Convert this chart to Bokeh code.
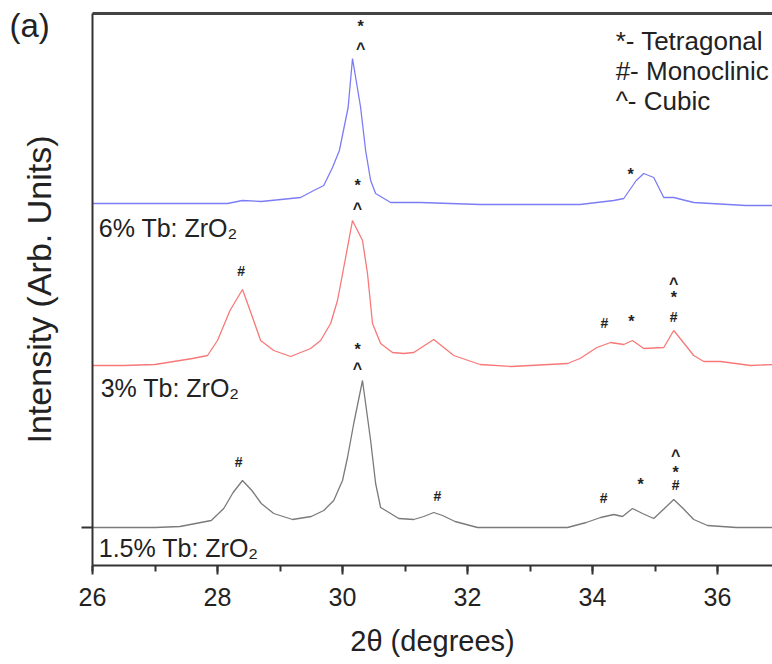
from bokeh.plotting import figure
from bokeh.models import (ColumnDataSource, LinearAxis, SingleIntervalTicker,
                          FixedTicker, Range1d, Title)
from bokeh.core.properties import value
from bokeh.embed import file_html
from bokeh.resources import INLINE

FONT = "Liberation Sans"

# XRD patterns, 2-theta in degrees, intensity in arbitrary units above each baseline
tt_15 = [26.0, 26.5, 27.0, 27.4, 27.9, 28.1, 28.25, 28.4, 28.55, 28.7, 28.9, 29.2,
         29.5, 29.7, 29.86, 30.0, 30.08, 30.18, 30.32, 30.45, 30.53, 30.61, 30.77,
         30.9, 31.14, 31.3, 31.46, 31.6, 31.8, 32.16, 32.5, 33.0, 33.6, 33.9, 34.13,
         34.34, 34.48, 34.64, 34.8, 34.98, 35.15, 35.3, 35.45, 35.62, 35.84, 36.3, 36.9]
int_15 = [0, 0, 0, 1, 7, 19, 35, 47, 37, 24, 14, 8,
          11, 17, 27, 47, 70, 104, 147, 87, 44, 20, 14,
          9, 8, 11, 15, 12, 6, 0, 0, 0, 0, 5, 10,
          13, 11, 19, 14, 9, 19, 28, 19, 8, 2, 0, 0]

tt_3 = [26.0, 26.5, 27.0, 27.6, 27.84, 28.0, 28.2, 28.4, 28.55, 28.69, 28.9, 29.17,
        29.49, 29.65, 29.81, 29.92, 30.05, 30.16, 30.32, 30.4, 30.48, 30.61, 30.8,
        30.98, 31.14, 31.46, 31.78, 32.2, 32.7, 33.6, 33.8, 34.07, 34.29, 34.5, 34.64,
        34.82, 35.14, 35.3, 35.62, 35.78, 36.05, 36.53, 36.9]
int_3 = [0, 0, 1, 7, 10, 25, 55, 76, 50, 25, 15, 9,
         17, 25, 42, 65, 108, 145, 125, 92, 42, 22, 13,
         12, 13, 26, 10, 1, -1, 2, 7, 18, 23, 21, 25,
         17, 18, 35, 10, 4, 4, 0, 1]

tt_6 = [26.0, 27.0, 28.16, 28.4, 28.7, 29.33, 29.54, 29.7, 29.84, 29.95, 30.09, 30.16,
        30.29, 30.37, 30.45, 30.53, 30.77, 31.25, 32.2, 33.8, 34.34, 34.5, 34.7, 34.82,
        34.98, 35.14, 35.3, 35.62, 36.45, 36.9]
int_6 = [0, 0, 0, 3, 2, 6, 13, 18, 36, 53, 96, 145,
         96, 53, 23, 10, 1, 1, -1, -1, 3, 5, 23, 30,
         26, 6, 6, 1, -2, -2]

# vertical stacking of the three patterns
offset_15 = 0
offset_3 = 162
offset_6 = 324

series_names = ["1.5% Tb: ZrO\u2082", "3% Tb: ZrO\u2082", "6% Tb: ZrO\u2082"]
series_colors = ["#7a7a7a", "#f87878", "#7c7cf6"]

# phase markers: 2-theta, height on the stacked scale, symbol
mark_tt = [30.29, 30.29, 34.61,
           28.38, 30.24, 30.24, 34.19, 34.62, 35.30, 35.30, 35.30,
           28.34, 30.24, 30.24, 31.52, 34.18, 34.77, 35.33, 35.33, 35.33]
mark_y = [505, 484, 357,
          257, 346, 324, 205, 210, 211, 234, 249,
          66, 182, 164, 32, 30, 47, 43, 59, 77]
mark_sym = ["*", "^", "*",
            "#", "*", "^", "#", "*", "#", "*", "^",
            "#", "*", "^", "#", "#", "*", "#", "*", "^"]

legend_lines = ["*- Tetragonal", "#- Monoclinic", "^- Cubic"]

p = figure(width=772, height=664, output_backend="svg", toolbar_location=None,
           x_range=Range1d(26, 36.88), y_range=Range1d(-38, 514),
           min_border_left=92, min_border_right=0, min_border_top=13,
           min_border_bottom=99)
p.outline_line_color = None
p.background_fill_color = "white"
p.border_fill_color = "white"
p.xgrid.visible = False
p.ygrid.visible = False

for tt, inten, off, col in [(tt_15, int_15, offset_15, series_colors[0]),
                            (tt_3, int_3, offset_3, series_colors[1]),
                            (tt_6, int_6, offset_6, series_colors[2])]:
    p.line(tt, [v + off for v in inten], line_color=col, line_width=1.3)

# phase symbols
sym_style = {"*": ("16px", 4), "^": ("16px", 5), "#": ("14px", 0)}
for s, (fs, dy) in sym_style.items():
    idx = [i for i, m in enumerate(mark_sym) if m == s]
    src = ColumnDataSource(dict(x=[mark_tt[i] for i in idx],
                                y=[mark_y[i] for i in idx],
                                t=[s] * len(idx)))
    p.text(x="x", y="y", text="t", source=src, text_font=value(FONT),
           text_font_size=fs, text_font_style="bold", text_color="#222222",
           text_align="center", text_baseline="middle", y_offset=dy)

# sample labels under each pattern
label_src = ColumnDataSource(dict(x=[26.1, 26.13, 26.1],
                                  y=[offset_15 - 20, offset_3 - 22, offset_6 - 24],
                                  t=series_names))
p.text(x="x", y="y", text="t", source=label_src, text_font=value(FONT),
       text_font_size="25px", text_color="#222222", text_align="left",
       text_baseline="middle")

# phase key
key_src = ColumnDataSource(dict(x=[34.37] * 3, y=[487, 457, 427], t=legend_lines))
p.text(x="x", y="y", text="t", source=key_src, text_font=value(FONT),
       text_font_size="26px", text_color="#222222", text_align="left",
       text_baseline="middle")

# axes
xa = p.xaxis[0]
xa.ticker = SingleIntervalTicker(interval=2, num_minor_ticks=2)
xa.axis_label = "2\u03b8 (degrees)"
xa.axis_label_text_font = FONT
xa.axis_label_text_font_size = "29px"
xa.axis_label_text_font_style = "normal"
xa.axis_label_text_color = "#222222"
xa.axis_label_standoff = 16
xa.major_label_text_font = FONT
xa.major_label_text_font_size = "25px"
xa.major_label_text_color = "#222222"
xa.major_label_standoff = 13
xa.axis_line_width = 2
xa.axis_line_color = "#333333"
xa.major_tick_line_width = 2
xa.major_tick_line_color = "#333333"
xa.minor_tick_line_width = 2
xa.minor_tick_line_color = "#333333"
xa.major_tick_in = 0
xa.major_tick_out = 9
xa.minor_tick_in = 0
xa.minor_tick_out = 6

ya = p.yaxis[0]
ya.ticker = FixedTicker(ticks=[0], minor_ticks=[])
ya.major_label_overrides = {0: ""}
ya.axis_label = "Intensity (Arb. Units)"
ya.axis_label_text_font = FONT
ya.axis_label_text_font_size = "34px"
ya.axis_label_text_font_style = "normal"
ya.axis_label_text_color = "#222222"
ya.axis_label_standoff = 24
ya.major_label_standoff = 0
ya.axis_line_width = 2
ya.axis_line_color = "#333333"
ya.major_tick_line_width = 2
ya.major_tick_line_color = "#333333"
ya.major_tick_in = 0
ya.major_tick_out = 11

top = LinearAxis(ticker=FixedTicker(ticks=[]),
                 major_tick_line_color=None, minor_tick_line_color=None,
                 axis_line_width=3, axis_line_color="#444444",
                 major_label_standoff=0)
p.add_layout(top, "above")

# panel tag in the top-left corner
p.title = Title(text="\n(a)", align="left", offset=-83, standoff=-62,
                vertical_align="bottom", text_font=FONT, text_font_size="33px",
                text_line_height=0.7, text_font_style="normal",
                text_color="#222222")

open("out.html", "w").write(file_html(p, INLINE))
